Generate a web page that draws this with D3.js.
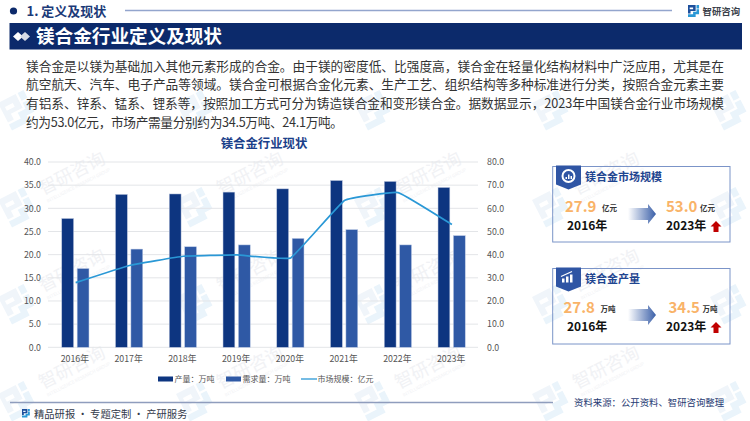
<!DOCTYPE html>
<html>
<head>
<meta charset="utf-8">
<script src="https://cdn.jsdelivr.net/npm/d3@7"></script>
<style>
  html, body { margin: 0; padding: 0; background: #fff; }
  svg { display: block; }
  text { font-family: "Noto Sans CJK SC", "Noto Sans", sans-serif; }
</style>
</head>
<body>
<svg id="chart"></svg>
<script>
// chart values
const years = ['2016年', '2017年', '2018年', '2019年', '2020年', '2021年', '2022年', '2023年'];
const output = [27.8, 33.0, 33.1, 33.5, 34.2, 36.0, 35.8, 34.5];
const demand = [17.0, 21.2, 21.7, 22.1, 23.5, 25.4, 22.1, 24.1];
const marketSize = [27.9, 35.3, 39.3, 39.9, 38.6, 63.4, 66.8, 53.0];
const leftTicks = [0, 5, 10, 15, 20, 25, 30, 35, 40];
const rightTicks = [0, 10, 20, 30, 40, 50, 60, 70, 80];
const legendLabels = ['产量：万吨', '需求量：万吨', '市场规模：亿元'];

const bodyLines = [
  '镁合金是以镁为基础加入其他元素形成的合金。由于镁的密度低、比强度高，镁合金在轻量化结构材料中广泛应用，尤其是在',
  '航空航天、汽车、电子产品等领域。镁合金可根据合金化元素、生产工艺、组织结构等多种标准进行分类，按照合金元素主要',
  '有铝系、锌系、锰系、锂系等，按照加工方式可分为铸造镁合金和变形镁合金。据数据显示，2023年中国镁合金行业市场规模',
  '约为53.0亿元，市场产需量分别约为34.5万吨、24.1万吨。'
];
const bodyWidths = [698, 698, 698, 317];

const cardTitles = ['镁合金市场规模', '镁合金产量'];
const cardFrom = ['27.9', '27.8'];
const cardTo = ['53.0', '34.5'];
const cardUnits = ['亿元', '万吨'];

const navy = '#0c2a6b';
const barDark = '#0d3580';
const barLight = '#2f59a5';
const lineBlue = '#2a98d6';

const width = 750;
const height = 421;
const svg = d3.select('#chart').attr('width', width).attr('height', height);
const defs = svg.append('defs');

// the small zhiyan logo, two interlocked blocks
function logo(g, x, y, s, c1, c2) {
  const l = g.append('g').attr('transform', `translate(${x},${y}) scale(${s})`);
  l.append('path').attr('d', 'M0 0H9V7H3V10H0Z M5 3H2V5H6V3Z').attr('fill', c1).attr('fill-rule', 'evenodd');
  l.append('path').attr('d', 'M10 0H13V4H10Z M0 11H6V8H10V5H13V11H9V14H0Z').attr('fill', c2);
  return l;
}

// watermark tiles, the lettering is only kept where it fits on the page
const wmX = d3.range(0, 5).map(i => -2 + i * 178);
const wmY = d3.range(-1, 4).map(i => 200 + i * 97);
const wm = svg.append('g').attr('class', 'watermark');
wmY.forEach(y => {
  wmX.forEach(x => {
    const t = wm.append('g').attr('transform', `translate(${x},${y}) rotate(-27)`);
    logo(t, 0, 0, 2.2, '#f0f5fa', '#eaf4fb');
    if (x + 118 < width && y - 58 > 50 && y + 25 < height) {
      t.append('text').attr('x', 42).attr('y', 16).attr('font-size', 18)
        .attr('fill', '#f1f2f5').text('智研咨询');
      t.append('text').attr('x', 43).attr('y', 25).attr('font-size', 4.5)
        .attr('fill', '#f1f2f5').text('INTELLIGENCE RESEARCH GROUP');
    }
  });
});

// top header
svg.append('circle').attr('cx', 13.5).attr('cy', 11).attr('r', 3.6).attr('fill', navy);
svg.append('text').attr('x', 26.5).attr('y', 16).attr('font-size', 13).attr('font-weight', 700)
  .attr('fill', '#1b3a78').text('1. 定义及现状');
svg.append('line').attr('x1', 125).attr('x2', 672).attr('y1', 10.5).attr('y2', 10.5)
  .attr('stroke', '#93a5cd').attr('stroke-width', 1.3);
logo(svg, 688, 5, 0.85, '#1d4f9c', '#2a98d6');
svg.append('text').attr('x', 702.5).attr('y', 14.5).attr('font-size', 9.4).attr('font-weight', 700)
  .attr('fill', '#3a3f4a').text('智研咨询');

// title bar
svg.append('rect').attr('x', 9.5).attr('y', 23).attr('width', 732.5).attr('height', 26.5).attr('fill', navy);
svg.append('path').attr('d', 'M13 36.5L18 32L23 36.5L18 41Z').attr('fill', '#fff');
svg.append('path').attr('d', 'M20 36.5L25 32L30 36.5L25 41Z').attr('fill', '#d6dbe6');
svg.append('text').attr('x', 36).attr('y', 42.5).attr('font-size', 18.6).attr('font-weight', 700)
  .attr('fill', '#fff').text('镁合金行业定义及现状');

// body text, set to the measured width of each line
svg.append('g').selectAll('text').data(bodyLines).join('text')
  .attr('x', 26)
  .attr('y', (d, i) => 70.5 + i * 18.7)
  .attr('font-size', 12.7)
  .attr('fill', '#333')
  .attr('textLength', (d, i) => bodyWidths[i])
  .attr('lengthAdjust', 'spacing')
  .text(d => d);

// chart
svg.append('text').attr('x', 264).attr('y', 147.5).attr('text-anchor', 'middle')
  .attr('font-size', 12.4).attr('font-weight', 700).attr('fill', '#1b3f8a').text('镁合金行业现状');

const x = d3.scaleBand().domain(years).range([48, 478]);
const yLeft = d3.scaleLinear().domain([0, 40]).range([347.3, 162]);
const yRight = d3.scaleLinear().domain([0, 80]).range([347.3, 162]);

svg.append('g').selectAll('line').data(leftTicks).join('line')
  .attr('x1', 48).attr('x2', 478)
  .attr('y1', d => yLeft(d)).attr('y2', d => yLeft(d))
  .attr('stroke', '#e3e5e8').attr('stroke-width', 1);

const axisLeft = svg.append('g').attr('transform', 'translate(48,0)')
  .call(d3.axisLeft(yLeft).tickValues(leftTicks).tickFormat(d3.format('.1f')).tickSize(0).tickPadding(7));
const axisRight = svg.append('g').attr('transform', 'translate(478,0)')
  .call(d3.axisRight(yRight).tickValues(rightTicks).tickFormat(d3.format('.1f')).tickSize(0).tickPadding(9));
const axisBottom = svg.append('g').attr('transform', 'translate(0,347.3)')
  .call(d3.axisBottom(x).tickSize(0).tickPadding(8));
[axisLeft, axisRight, axisBottom].forEach(a => {
  a.select('.domain').remove();
  a.selectAll('text').attr('font-size', 8.8).attr('fill', '#555')
    .style('font-family', '"Noto Sans CJK SC", sans-serif');
});

const barW = 11.8;
const barGap = 3.6;
const barSeries = [
  { values: output, color: barDark, edge: '#b9c4dc', dx: -barW - barGap / 2 },
  { values: demand, color: barLight, edge: '#b9c8e4', dx: barGap / 2 }
];
barSeries.forEach(s => {
  svg.append('g').selectAll('rect').data(years).join('rect')
    .attr('x', d => x(d) + x.bandwidth() / 2 + s.dx + 0.5)
    .attr('y', (d, i) => yLeft(s.values[i]))
    .attr('width', barW)
    .attr('height', (d, i) => yLeft(0) - yLeft(s.values[i]))
    .attr('fill', s.color)
    .attr('stroke', s.edge)
    .attr('stroke-width', 0.5);
});

const line = d3.line()
  .x((d, i) => x(years[i]) + x.bandwidth() / 2 + 0.8)
  .y(d => yRight(d))
  .curve(d3.curveCardinal.tension(0.75));
svg.append('path').datum(marketSize).attr('d', line)
  .attr('fill', 'none').attr('stroke', lineBlue).attr('stroke-width', 1.7);

// legend
const legendX = [158, 226, 301];
const legendColors = [barDark, barLight, lineBlue];
const legendItems = svg.append('g').selectAll('g').data(legendLabels).join('g')
  .attr('transform', (d, i) => `translate(${legendX[i]},379)`);
legendItems.each(function (d, i) {
  const g = d3.select(this);
  if (i < 2) g.append('rect').attr('x', 0).attr('y', -2.5).attr('width', 15).attr('height', 5).attr('fill', legendColors[i]);
  else g.append('line').attr('x1', 0).attr('x2', 16).attr('y1', 0).attr('y2', 0).attr('stroke', legendColors[i]).attr('stroke-width', 1.3);
  g.append('text').attr('x', 16.5).attr('y', 3).attr('font-size', 8).attr('fill', '#555').text(d);
});

// right side cards
const cardTop = [166.5, 268.5];
const cardH = [75.5, 75.5];
const gradient = defs.append('linearGradient').attr('id', 'arrowFill');
gradient.append('stop').attr('offset', '0%').attr('stop-color', '#fff');
gradient.append('stop').attr('offset', '100%').attr('stop-color', '#3a5fa8');

cardTitles.forEach((title, i) => {
  const top = cardTop[i];
  const g = svg.append('g');
  g.append('rect').attr('x', 552.7).attr('y', top).attr('width', 177.3).attr('height', cardH[i])
    .attr('fill', 'none').attr('stroke', '#7b94c8').attr('stroke-width', 1);
  g.append('path').attr('d', `M556 ${top - 1}H581V${top + 18}L568.5 ${top + 23}L556 ${top + 18}Z`).attr('fill', '#2f55a4');
  if (i === 0) {
    g.append('circle').attr('cx', 568.5).attr('cy', top + 9.5).attr('r', 6)
      .attr('fill', 'none').attr('stroke', '#fff').attr('stroke-width', 2);
    g.append('path').attr('d', `M565.5 ${top + 12.5}v-2h1.5v2Z M568 ${top + 12.5}v-4.5h1.5v4.5Z M570.5 ${top + 12.5}v-3h1.5v3Z`).attr('fill', '#fff');
  } else {
    g.append('path').attr('d', `M562 ${top + 14}h2.5v-4h-2.5Z M566 ${top + 14}h2.5v-6h-2.5Z M570 ${top + 14}h2.5v-8h-2.5Z`).attr('fill', '#fff');
    g.append('path').attr('d', `M561 ${top + 8}L572 ${top + 3}`).attr('stroke', '#fff').attr('stroke-width', 1.2);
  }
  g.append('text').attr('x', 585).attr('y', top + 14).attr('font-size', 11).attr('font-weight', 700)
    .attr('fill', '#1f4590').text(title);

  const valueY = i === 0 ? 212 : 313;
  const yearY = i === 0 ? 230 : 331;
  const fromX = i === 0 ? 565 : 563.5;
  const toX = i === 0 ? 666 : 668.5;
  g.append('text').attr('x', fromX).attr('y', valueY).attr('font-size', 15).attr('font-weight', 700)
    .attr('fill', '#f9b368').text(cardFrom[i]);
  g.append('text').attr('x', fromX + 37).attr('y', valueY - 1).attr('font-size', 7.5).attr('font-weight', 700)
    .attr('fill', '#333').text(cardUnits[i]);
  g.append('text').attr('x', toX).attr('y', valueY).attr('font-size', 15).attr('font-weight', 700)
    .attr('fill', '#f9b368').text(cardTo[i]);
  g.append('text').attr('x', toX + 34).attr('y', valueY - 1).attr('font-size', 7.5).attr('font-weight', 700)
    .attr('fill', '#333').text(cardUnits[i]);
  g.append('text').attr('x', 567).attr('y', yearY).attr('font-size', 12).attr('font-weight', 700)
    .attr('fill', '#111').text(years[0]);
  g.append('text').attr('x', 666).attr('y', yearY).attr('font-size', 12).attr('font-weight', 700)
    .attr('fill', '#111').text(years[7]);

  // gradient arrow between the two years
  const ay = yearY - 16;
  g.append('path')
    .attr('d', `M628 ${ay - 6}H648V${ay - 10}L656 ${ay}L648 ${ay + 10}V${ay + 6}H628Z`)
    .attr('fill', 'url(#arrowFill)');
  // red up arrow
  const ry = yearY - 9;
  g.append('path')
    .attr('d', `M716 ${ry}L721.5 ${ry + 5.5}H718.5V${ry + 11}H713.5V${ry + 5.5}H710.5Z`)
    .attr('fill', '#c00000');
});

// footer
svg.append('line').attr('x1', 10).attr('x2', 553).attr('y1', 402.5).attr('y2', 402.5)
  .attr('stroke', '#8f9dbd').attr('stroke-width', 1.5);
logo(svg, 22, 409, 0.6, '#1d4f9c', '#2a98d6');
svg.append('text').attr('x', 34).attr('y', 417.5).attr('font-size', 10.3)
  .attr('fill', '#333a4a').text('精品研报 · 专题定制 · 产研服务');
svg.append('text').attr('x', 574).attr('y', 405.5).attr('font-size', 9.4)
  .attr('fill', '#1f3a73').text('资料来源：公开资料、智研咨询整理');
</script>
</body>
</html>
